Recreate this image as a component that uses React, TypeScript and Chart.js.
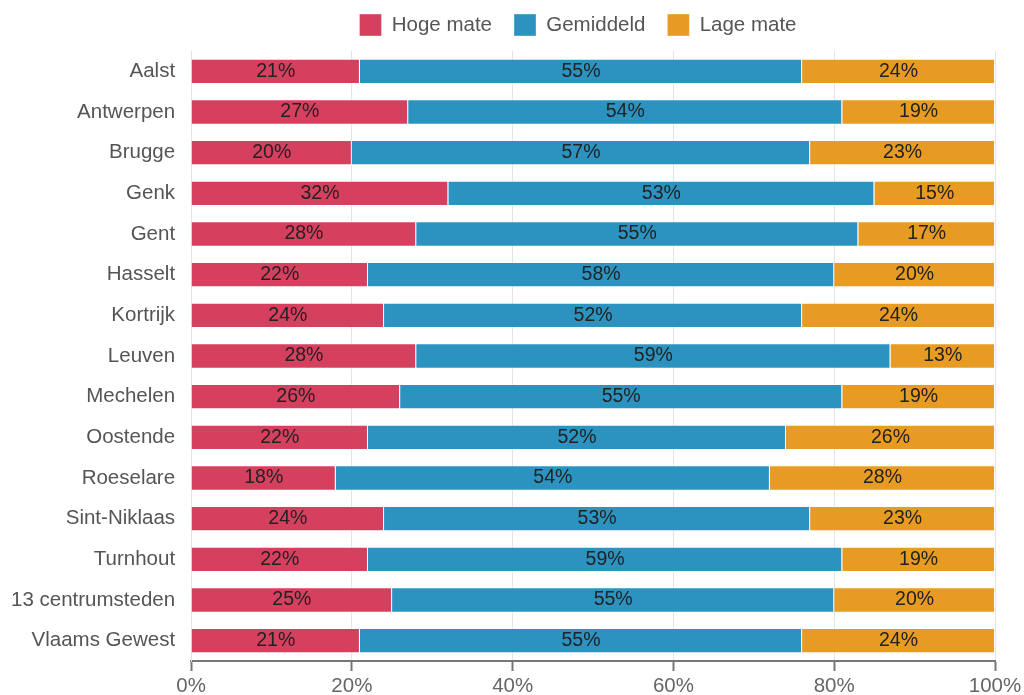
import React, { useEffect, useRef } from "react";
import { Chart, registerables } from "chart.js";

Chart.register(...registerables);

const categories = [
  "Aalst", "Antwerpen", "Brugge", "Genk", "Gent", "Hasselt", "Kortrijk", "Leuven",
  "Mechelen", "Oostende", "Roeselare", "Sint-Niklaas", "Turnhout", "13 centrumsteden", "Vlaams Gewest",
];
const hogeMate = [21, 27, 20, 32, 28, 22, 24, 28, 26, 22, 18, 24, 22, 25, 21];
const gemiddeld = [55, 54, 57, 53, 55, 58, 52, 59, 55, 52, 54, 53, 59, 55, 55];
const lageMate = [24, 19, 23, 15, 17, 20, 24, 13, 19, 26, 28, 23, 19, 20, 24];
const xTicks = [0, 20, 40, 60, 80, 100];

const FONT = "'Liberation Sans', Arial, sans-serif";

const labelPlugin = {
  id: "segLabels",
  afterDatasetsDraw(chart: any) {
    const ctx = chart.ctx;
    ctx.save();
    ctx.font = `19.5px ${FONT}`;
    ctx.fillStyle = "#222";
    ctx.textAlign = "center";
    ctx.textBaseline = "middle";
    chart.data.datasets.forEach((ds: any, di: number) => {
      const meta = chart.getDatasetMeta(di);
      meta.data.forEach((bar: any, i: number) => {
        const x = (bar.x + bar.base) / 2;
        ctx.fillText(ds.data[i] + "%", x, bar.y);
      });
    });
    ctx.restore();
  },
};

const legendTweak = {
  id: "legendTweak",
  beforeLayout(chart: any) {
    const l = chart.legend;
    if (l && !l.__patched) {
      const origFit = l.fit;
      l.fit = function () {
        origFit.call(this);
        this.height -= 3;
      };
      l.__patched = true;
    }
  },
  afterLayout(chart: any) {
    const l = chart.legend;
    if (l) {
      l.left += 83;
      l.right += 83;
      l.top -= 8;
      l.bottom -= 8;
    }
  },
};

export default function App() {
  const ref = useRef<HTMLCanvasElement>(null);
  useEffect(() => {
    document.body.style.margin = "0";
    const chart = new Chart(ref.current!, {
      type: "bar",
      data: {
        labels: categories,
        datasets: [
          { label: "Hoge mate", data: hogeMate, backgroundColor: "#d6405f", borderColor: "rgba(255,255,255,0.35)", borderWidth: 1 },
          { label: "Gemiddeld", data: gemiddeld, backgroundColor: "#2c93c0", borderColor: "rgba(255,255,255,0.35)", borderWidth: 1 },
          { label: "Lage mate", data: lageMate, backgroundColor: "#e89b22", borderColor: "rgba(255,255,255,0.35)", borderWidth: 1 },
        ],
      },
      options: {
        indexAxis: "y",
        responsive: false,
        animation: false,
        layout: { padding: { left: -5, right: 29, top: 0, bottom: 0 } },
        datasets: { bar: { categoryPercentage: 0.8, barPercentage: 0.78 } },
        plugins: {
          legend: {
            position: "top",
            labels: {
              boxWidth: 22,
              boxHeight: 22,
              padding: 22,
              color: "#555",
              font: { size: 20.5, family: FONT },
            },
          },
          tooltip: { enabled: false },
        },
        scales: {
          x: {
            stacked: true,
            min: 0,
            max: 100,
            afterBuildTicks: (axis: any) => {
              axis.ticks = xTicks.map((v) => ({ value: v }));
            },
            afterFit: (axis: any) => {
              axis.paddingRight = 0;
              axis.height = 34;
            },
            ticks: {
              color: "#666",
              font: { size: 20.5, family: FONT, lineHeight: 0.85 },
              callback: (v: any) => v + "%",
              padding: 6.5,
            },
            grid: { color: "#e4e4e4", lineWidth: 1, tickLength: 10, tickColor: "#777", tickWidth: 2 },
            border: { color: "#777", width: 2 },
          },
          y: {
            stacked: true,
            afterFit: (axis: any) => {
              axis.paddingTop = 0;
              axis.paddingBottom = 0;
            },
            ticks: { color: "#555", font: { size: 20.5, family: FONT }, padding: 16 },
            grid: { display: false, drawTicks: false },
            border: { display: true, color: "#e4e4e4", width: 1 },
          },
        },
      },
      plugins: [labelPlugin, legendTweak],
    } as any);
    return () => chart.destroy();
  }, []);
  return <canvas ref={ref} width={1024} height={695} />;
}
